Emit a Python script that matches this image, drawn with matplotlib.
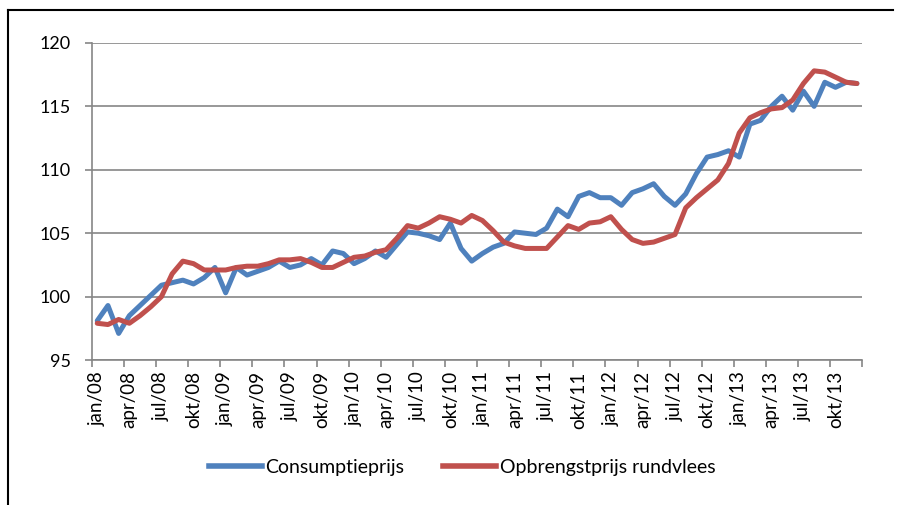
import matplotlib.pyplot as plt
from matplotlib.lines import Line2D
import numpy as np

plt.rcParams['font.family'] = ['Lato', 'DejaVu Sans']

months = ['jan', 'feb', 'mrt', 'apr', 'mei', 'jun', 'jul', 'aug', 'sep', 'okt', 'nov', 'dec']
years = ['08', '09', '10', '11', '12', '13']
labels = [m + '/' + y for y in years for m in months]

consumptie = [98.1, 99.3, 97.1, 98.5, 99.3, 100.1, 100.9, 101.1, 101.3, 101.0, 101.5, 102.3,
              100.3, 102.3, 101.7, 102.0, 102.3, 102.8, 102.3, 102.5, 103.0, 102.5, 103.6, 103.4,
              102.6, 103.0, 103.6, 103.1, 104.1, 105.1, 105.0, 104.8, 104.5, 105.8, 103.8, 102.8,
              103.4, 103.9, 104.2, 105.1, 105.0, 104.9, 105.4, 106.9, 106.3, 107.9, 108.2, 107.8,
              107.8, 107.2, 108.2, 108.5, 108.9, 107.9, 107.2, 108.1, 109.7, 111.0, 111.2, 111.5,
              111.0, 113.6, 113.9, 115.0, 115.8, 114.7, 116.2, 115.0, 116.9, 116.5, 116.9, 116.8]

rundvlees = [97.9, 97.8, 98.2, 97.9, 98.5, 99.2, 100.0, 101.8, 102.8, 102.6, 102.1, 102.1,
             102.1, 102.3, 102.4, 102.4, 102.6, 102.9, 102.9, 103.0, 102.7, 102.3, 102.3, 102.7,
             103.1, 103.2, 103.5, 103.7, 104.6, 105.6, 105.4, 105.8, 106.3, 106.1, 105.8, 106.4,
             106.0, 105.2, 104.3, 104.0, 103.8, 103.8, 103.8, 104.7, 105.6, 105.3, 105.8, 105.9,
             106.3, 105.3, 104.5, 104.2, 104.3, 104.6, 104.9, 107.0, 107.8, 108.5, 109.2, 110.5,
             112.9, 114.1, 114.5, 114.8, 114.9, 115.5, 116.8, 117.8, 117.7, 117.3, 116.9, 116.8]

blue = '#4F81BD'
red = '#C0504D'
grey = '#868686'

fig = plt.figure(figsize=(9.01, 5.05), dpi=100)
ax = fig.add_axes([0.102, 0.287, 0.855, 0.628])

x = np.arange(len(labels))
ax.plot(x, consumptie, color=blue, lw=3.6, solid_joinstyle='round', solid_capstyle='round', zorder=3)
ax.plot(x, rundvlees, color=red, lw=3.6, solid_joinstyle='round', solid_capstyle='round', zorder=3)

ax.set_xlim(-0.5, len(labels) - 0.5)
ax.set_ylim(95, 120)
ax.set_yticks([95, 100, 105, 110, 115, 120])
ax.yaxis.grid(True, color=grey, lw=1.2)
ax.set_axisbelow(True)

ax.set_xticks(x[::3])
ax.set_xticklabels(labels[::3], rotation=90, fontsize=13.5)
ax.set_xticks(np.arange(-0.5, len(labels), 3), minor=True)
ax.tick_params(axis='x', which='major', length=0, pad=8)
ax.tick_params(axis='x', which='minor', length=5, color=grey, width=1.2)
ax.tick_params(axis='y', length=5, color=grey, width=1.2, labelsize=13, pad=10)

for s in ['top', 'right']:
    ax.spines[s].set_visible(False)
for s in ['left', 'bottom']:
    ax.spines[s].set_color(grey)
    ax.spines[s].set_linewidth(1.2)

handles = [Line2D([], [], color=blue, lw=4), Line2D([], [], color=red, lw=4)]
fig.legend(handles, ['Consumptieprijs', 'Opbrengstprijs rundvlees'], loc='center',
           bbox_to_anchor=(0.513, 0.075), ncol=2, frameon=False, fontsize=14,
           handlelength=2.7, handletextpad=0.2, columnspacing=2.0)

# outer frame (top and left only)
fig.add_artist(Line2D([8 / 901, 893 / 901], [1 - 10 / 505, 1 - 10 / 505], color='black', lw=1.5))
fig.add_artist(Line2D([8 / 901, 8 / 901], [0, 1 - 10 / 505], color='black', lw=1.5))

fig.savefig('out.png', dpi=100)
